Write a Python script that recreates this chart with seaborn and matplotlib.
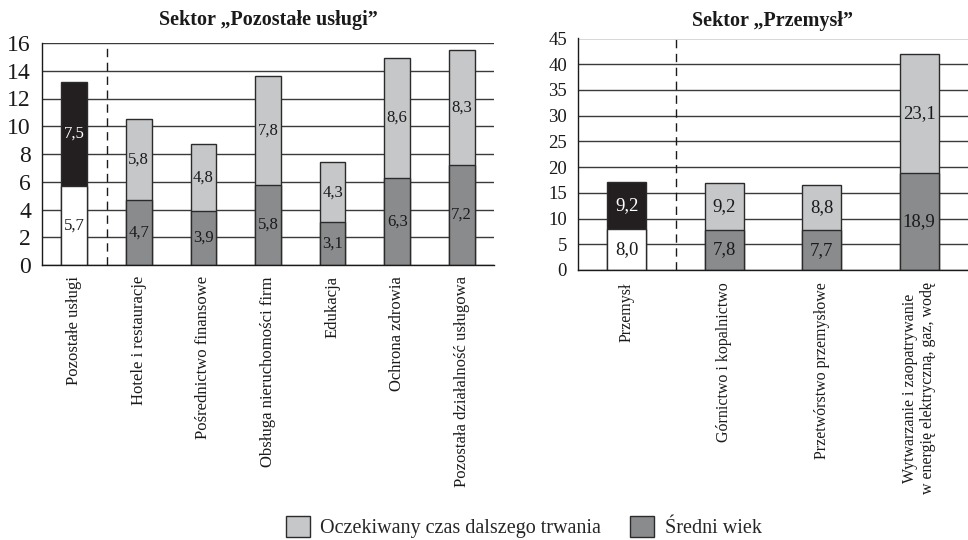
import matplotlib
matplotlib.use("Agg")
import matplotlib.pyplot as plt
from matplotlib.patches import Patch
import seaborn as sns
import pandas as pd

# Sector "Pozostałe usługi"
uslugi_labels = ["Pozostałe usługi", "Hotele i restauracje", "Pośrednictwo finansowe",
                 "Obsługa nieruchomości firm", "Edukacja", "Ochrona zdrowia",
                 "Pozostała działalność usługowa"]
uslugi_wiek = [5.7, 4.7, 3.9, 5.8, 3.1, 6.3, 7.2]
uslugi_czas = [7.5, 5.8, 4.8, 7.8, 4.3, 8.6, 8.3]

# Sector "Przemysł"
przemysl_labels = ["Przemysł", "Górnictwo i kopalnictwo", "Przetwórstwo przemysłowe",
                   "Wytwarzanie i zaopatrywanie\nw energię elektryczną, gaz, wodę"]
przemysl_wiek = [8.0, 7.8, 7.7, 18.9]
przemysl_czas = [9.2, 9.2, 8.8, 23.1]

legend_labels = ["Oczekiwany czas dalszego trwania", "Średni wiek"]

C_LIGHT = "#c6c7c9"
C_DARK = "#8a8b8d"
C_BLACK = "#231f20"
C_WHITE = "#ffffff"
EDGE = "#2b2b2b"

sns.set_theme(style="white")
plt.rcParams["font.family"] = ["Liberation Serif", "DejaVu Serif"]

fig = plt.figure(figsize=(9.68, 5.4), dpi=100)
ax1 = fig.add_axes([42 / 968, 1 - 265 / 540, 452 / 968, 222 / 540])
ax2 = fig.add_axes([578 / 968, 1 - 270 / 540, 390 / 968, 231.5 / 540])


def draw_panel(ax, labels, wiek, czas, ymax, ystep, title, tick_fs, val_fs, xmax,
               title_pad, label_pad, label_fs):
    df = pd.DataFrame({"kat": labels, "wiek": wiek, "czas": czas})
    df["suma"] = df["wiek"] + df["czas"]
    n = len(labels)
    top_cols = [C_BLACK] + [C_LIGHT] * (n - 1)
    base_cols = [C_WHITE] + [C_DARK] * (n - 1)
    sns.barplot(data=df, x="kat", y="suma", hue="kat", palette=top_cols, legend=False,
                width=0.4, edgecolor=EDGE, linewidth=1.0, saturation=1, ax=ax, zorder=3)
    sns.barplot(data=df, x="kat", y="wiek", hue="kat", palette=base_cols, legend=False,
                width=0.4, edgecolor=EDGE, linewidth=1.0, saturation=1, ax=ax, zorder=4)
    for i, (w, c) in enumerate(zip(wiek, czas)):
        tcol = "white" if i == 0 else "#1a1a1a"
        ax.text(i, w / 2, f"{w:.1f}".replace(".", ","), ha="center", va="center",
                fontsize=val_fs, color="#1a1a1a", zorder=6)
        ax.text(i, w + c / 2, f"{c:.1f}".replace(".", ","), ha="center", va="center",
                fontsize=val_fs, color=tcol, zorder=6)

    ax.set_xlim(-0.5, xmax)
    ax.set_ylim(0, ymax)
    ax.set_yticks(range(0, ymax + 1, ystep))
    ax.yaxis.grid(True, color="#3a3a3a", linewidth=1.0)
    ax.set_axisbelow(True)
    ax.axvline(0.5, color="#1a1a1a", linewidth=1.0, linestyle=(0, (6, 4)), zorder=2)

    for side in ("top", "right"):
        ax.spines[side].set_visible(False)
    for side in ("left", "bottom"):
        ax.spines[side].set_color("#1a1a1a")
        ax.spines[side].set_linewidth(1.0)
        ax.spines[side].set_zorder(5)

    ax.set_xticks(range(n))
    ax.set_xticklabels(labels, rotation=90, fontsize=label_fs, va="top", ha="center",
                       multialignment="center", color="#1a1a1a")
    ax.tick_params(axis="x", length=0, pad=label_pad)
    ax.set_xticks([k + 0.5 for k in range(1, n)], minor=True)
    ax.tick_params(axis="x", which="minor", direction="in", length=5, width=1,
                   color="#1a1a1a")
    ax.tick_params(axis="y", length=0, pad=8, labelsize=tick_fs, labelcolor="#1a1a1a")
    ax.set_xlabel("")
    ax.set_ylabel("")
    ax.set_title(title, fontsize=14.5, fontweight="bold", pad=title_pad, color="#1a1a1a")


draw_panel(ax1, uslugi_labels, uslugi_wiek, uslugi_czas, 16, 2,
           "Sektor „Pozostałe usługi”", 17, 12, 6.5, 13, 8, 12)
draw_panel(ax2, przemysl_labels, przemysl_wiek, przemysl_czas, 45, 5,
           "Sektor „Przemysł”", 13.5, 13.5, 3.42, 9, 9, 11.5)
ax1.spines["bottom"].set_bounds(-0.5, 6.5)

handles = [Patch(facecolor=C_LIGHT, edgecolor=EDGE, linewidth=1.0),
           Patch(facecolor=C_DARK, edgecolor=EDGE, linewidth=1.0)]
fig.legend(handles, legend_labels, loc="center", bbox_to_anchor=(0.541, 1 - 527 / 540),
           ncol=2, frameon=False, fontsize=14.5, handlelength=1.2, handleheight=1.2,
           handletextpad=0.5, columnspacing=1.45, borderaxespad=0)

fig.savefig("out.png", dpi=100, facecolor="white")
